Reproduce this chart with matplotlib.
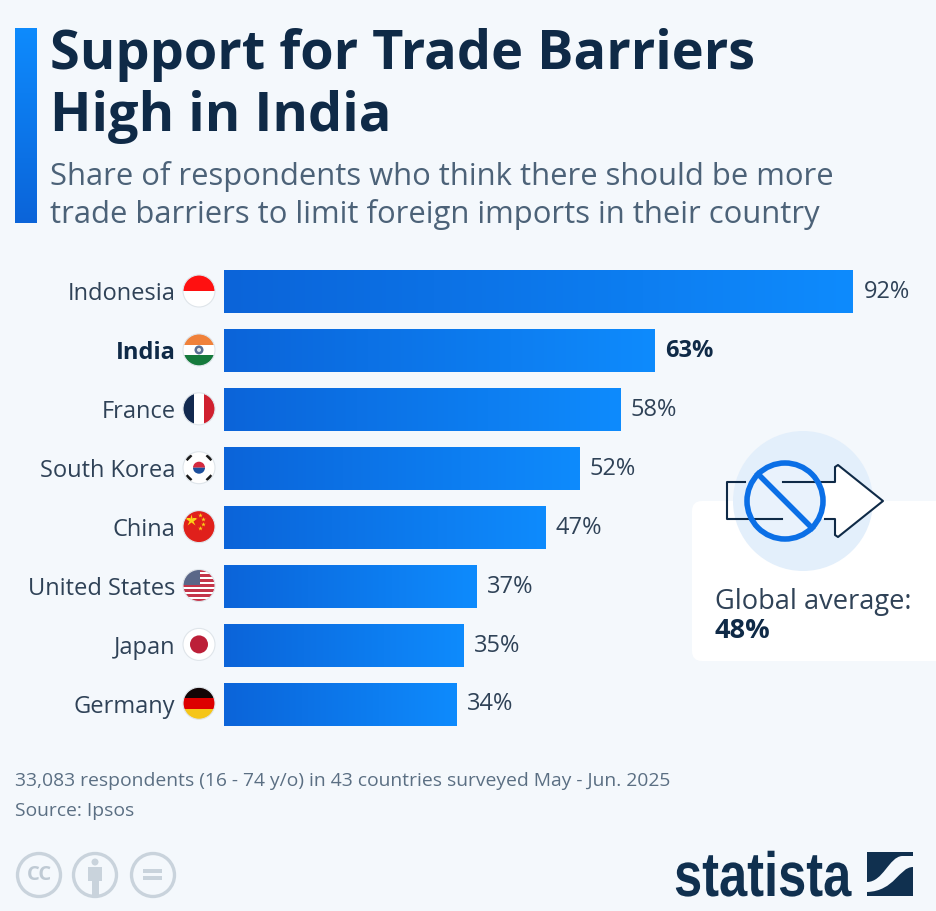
#!/usr/bin/env python
# -*- coding: utf-8 -*-
import numpy as np
import matplotlib as mpl
mpl.use('Agg')
import matplotlib.pyplot as plt
from matplotlib.colors import LinearSegmentedColormap
from matplotlib.patches import Circle, Rectangle, FancyBboxPatch, PathPatch, Polygon, Wedge
from matplotlib.patheffects import AbstractPathEffect
from matplotlib.path import Path
from matplotlib.transforms import Affine2D

countries = ["Indonesia", "India", "France", "South Korea", "China",
             "United States", "Japan", "Germany"]
values = [92, 63, 58, 52, 47, 37, 35, 34]

W, H = 937, 912
BG = "#f4f8fc"
NAVY = "#0f2a47"
SLATE = "#4c6278"
LABEL = "#2f4257"
BLUE = "#0b6fe6"
grad = LinearSegmentedColormap.from_list("bar", ["#0b64d9", "#0e8bfd"])

plt.rcParams['font.family'] = ['Open Sans', 'DejaVu Sans']


# squeeze a text sideways, the logo lettering is condensed
class Squeeze(AbstractPathEffect):
    def __init__(self, x0, sx):
        super().__init__()
        self.x0, self.sx = x0, sx

    def draw_path(self, renderer, gc, tpath, affine, rgbFace=None):
        squeeze = Affine2D().translate(-self.x0, 0).scale(self.sx, 1).translate(self.x0, 0)
        renderer.draw_path(gc, tpath, affine + squeeze, rgbFace)


fig = plt.figure(figsize=(W/100, H/100), dpi=100, facecolor=BG)

# overlay in pixel coords for the decoration
px = fig.add_axes([0, 0, 1, 1])
px.axis('off')

# accent bar
px.imshow(np.linspace(1, 0, 256).reshape(-1, 1), cmap=grad, aspect='auto',
          extent=(15, 37, 224, 29))
px.set_xlim(0, W)
px.set_ylim(H, 0)

px.text(50, 55, "Support for Trade Barriers", fontsize=39, fontweight='bold',
        color=NAVY, va='center')
px.text(50, 117, "High in India", fontsize=39, fontweight='bold',
        color=NAVY, va='center')
px.text(50, 177, "Share of respondents who think there should be more",
        fontsize=22.35, color=SLATE, va='center')
px.text(50, 215, "trade barriers to limit foreign imports in their country",
        fontsize=22.35, color=SLATE, va='center')

# global average card
px.add_patch(FancyBboxPatch((692, 502), 300, 160, boxstyle="round,pad=0,rounding_size=10",
                            fc="white", ec="none", zorder=1))
px.add_patch(Circle((803, 502), 70, fc="#e3effb", ec="none", zorder=2))
px.add_patch(Polygon([(835, 483), (835, 468), (838, 466), (883, 502), (838, 538),
                      (835, 536), (835, 520), (800, 520), (800, 483)],
                     fc="white", ec="none", zorder=3))
px.add_patch(Circle((785, 502), 38, fc="#e9f2fc", ec="none", zorder=5))
px.plot([745, 727, 727, 782], [483, 483, 520, 520], color=NAVY, lw=1.5,
        solid_joinstyle='round', zorder=6)
px.plot([783, 835, 835, 838, 883, 838, 835, 835, 825],
        [483, 483, 468, 466, 502, 538, 536, 520, 520], color=NAVY, lw=1.5,
        solid_joinstyle='round', zorder=6)
px.add_patch(Circle((785, 502), 38, fc="none", ec=BLUE, lw=4, zorder=7))
px.plot([758, 812], [475, 529], color=BLUE, lw=4, zorder=7)
px.text(715, 602, "Global average:", fontsize=19.6, color=LABEL, va='center', zorder=8)
px.text(715, 631, "48%", fontsize=19.6, fontweight='bold', color=NAVY, va='center', zorder=8)

# footer
px.text(15, 781, "33,083 respondents (16 - 74 y/o) in 43 countries surveyed May - Jun. 2025",
        fontsize=13.9, color="#5b6f83", va='center')
px.text(15, 811, "Source: Ipsos", fontsize=13.9, color="#5b6f83", va='center')

# licence icons
GREY = "#c9d3dc"
for cx in (39, 95, 153):
    px.add_patch(Circle((cx, 876), 21.5, fc="none", ec=GREY, lw=2.4))
px.text(39, 875, "CC", fontsize=14.5, fontweight='bold', color="#bfcad4", ha='center', va='center')
px.add_patch(Circle((95, 863), 3.5, fc=GREY, ec="none"))
px.add_patch(Rectangle((88, 868), 14, 14, fc=GREY, ec="none"))
px.add_patch(Rectangle((92, 880), 7, 16, fc=GREY, ec="none"))
px.add_patch(Rectangle((143, 870), 19, 4, fc=GREY, ec="none"))
px.add_patch(Rectangle((143, 877), 19, 4, fc=GREY, ec="none"))

# statista logo
LOGO = "#10304f"
px.text(674, 897, "statista", fontsize=45, fontweight='bold', color=LOGO, va='baseline',
        family=['Liberation Sans'], path_effects=[Squeeze(674, 0.81)])
px.add_patch(Rectangle((867, 853), 46, 44, fc=LOGO, ec="none"))
band = Path([(867, 884), (867, 883), (883, 883), (889, 858), (902, 857), (913, 857),
             (913, 868), (913, 868), (899, 868), (895, 892), (867, 893), (867, 893), (867, 884)],
            [Path.MOVETO, Path.LINETO, Path.CURVE4, Path.CURVE4, Path.CURVE4, Path.LINETO,
             Path.LINETO, Path.LINETO, Path.CURVE4, Path.CURVE4, Path.CURVE4, Path.LINETO, Path.CLOSEPOLY])
px.add_patch(PathPatch(band, fc=BG, ec="none"))

# bars
top, bottom = 263, 733
step = 58.9
scale = 629 / 92.0
ax = fig.add_axes([224/W, 1 - bottom/H, (W-224)/W, (bottom-top)/H])
ax.patch.set_alpha(0)
bars = ax.barh(range(len(values)), values, height=43/step, color=BLUE, zorder=2)
for b in bars:
    x0, y0, w, h = b.get_x(), b.get_y(), b.get_width(), b.get_height()
    im = ax.imshow(np.linspace(0, 1, 256).reshape(1, -1), cmap=grad, aspect='auto',
                   extent=(x0, x0+w, y0+h, y0), zorder=3)
    im.set_clip_path(b)
ax.set_xlim(0, (W-224)/scale)
ax.set_ylim((bottom-292.8)/step, -(292.8-top)/step)
for s in ax.spines.values():
    s.set_visible(False)
ax.set_xticks([])
ax.set_yticks(range(len(countries)))
ax.set_yticklabels(countries, fontsize=17, color=LABEL)
ax.tick_params(axis='y', length=0, pad=35)
for i, v in enumerate(values):
    bold = countries[i] == "India"
    ax.annotate("%d%%" % v, (v, i), xytext=(7.5, 0.5), textcoords='offset points',
                va='center', fontsize=17, color=NAVY if bold else LABEL,
                fontweight='bold' if bold else 'normal')
    if bold:
        ax.get_yticklabels()[i].set_fontweight('bold')
        ax.get_yticklabels()[i].set_color(NAVY)
for t in ax.get_yticklabels():
    t.set_transform(t.get_transform() + Affine2D().translate(0, 1.5))


# flags, clipped to a circle next to each label
def flag(i, draw):
    cy = 292 + i*step
    cx = 199
    r = 16
    clip = Circle((cx, cy), r, transform=px.transData)
    for art in draw(cx, cy, r):
        px.add_artist(art)
        art.set_clip_path(clip)
    px.add_patch(Circle((cx, cy), r, fc="none", ec="#dfe5ea", lw=0.8))


def stripes(cols, horizontal=True):
    def draw(cx, cy, r):
        n = len(cols)
        out = []
        for k, c in enumerate(cols):
            if horizontal:
                out.append(Rectangle((cx-r, cy-r+2*r*k/n), 2*r, 2*r/n + 0.3, fc=c, ec="none"))
            else:
                out.append(Rectangle((cx-r+2*r*k/n, cy-r), 2*r/n + 0.3, 2*r, fc=c, ec="none"))
        return out
    return draw


def india(cx, cy, r):
    out = stripes(["#f0813a", "#ffffff", "#157a3c"])(cx, cy, r)
    out.append(Circle((cx, cy), 4.5, fc="#2f4a7a", ec="none", alpha=0.8))
    out.append(Circle((cx, cy), 2, fc="#dfe5ea", ec="none"))
    return out


def korea(cx, cy, r):
    # y runs downwards here, so 180-360 is the top half
    out = [Rectangle((cx-r, cy-r), 2*r, 2*r, fc="white", ec="none"),
           Wedge((cx, cy), 6, 180, 360, fc="#d5293e", ec="none"),
           Wedge((cx, cy), 6, 0, 180, fc="#1d4f9c", ec="none")]
    for sx, sy in ((-1, -1), (1, -1), (-1, 1), (1, 1)):
        ang = 45 if sx*sy < 0 else -45
        out.append(Rectangle((cx+sx*10.5-3.5, cy+sy*10.5-2), 7, 4, fc="#1a1a1a", ec="none",
                             transform=Affine2D().rotate_deg_around(
                                 cx+sx*10.5, cy+sy*10.5, ang) + px.transData))
    return out


def china(cx, cy, r):
    out = [Rectangle((cx-r, cy-r), 2*r, 2*r, fc="#e0201b", ec="none")]
    out.append(plt.Line2D([cx-8], [cy-7], marker='*', ms=9, color="#fbd116", mec="none"))
    for dx, dy in ((1, -12), (4, -8), (4, -3), (1, 1)):
        out.append(plt.Line2D([cx+dx], [cy+dy], marker='*', ms=3.5, color="#fbd116", mec="none"))
    return out


def usa(cx, cy, r):
    out = stripes(["#c4354a", "#ffffff"]*6 + ["#c4354a"])(cx, cy, r)
    out.append(Rectangle((cx-r, cy-r), r*1.05, r*0.98, fc="#5a6788", ec="none"))
    return out


def japan(cx, cy, r):
    return [Rectangle((cx-r, cy-r), 2*r, 2*r, fc="white", ec="none"),
            Circle((cx, cy), 9, fc="#bc1f38", ec="none")]


flags = [stripes(["#ff1010", "#ffffff"]), india,
         stripes(["#12294f", "#ffffff", "#d0202f"], horizontal=False),
         korea, china, usa, japan,
         stripes(["#120505", "#dd0000", "#f5c518"])]
for i, d in enumerate(flags):
    flag(i, d)

fig.savefig("out.png", dpi=100, facecolor=BG)
